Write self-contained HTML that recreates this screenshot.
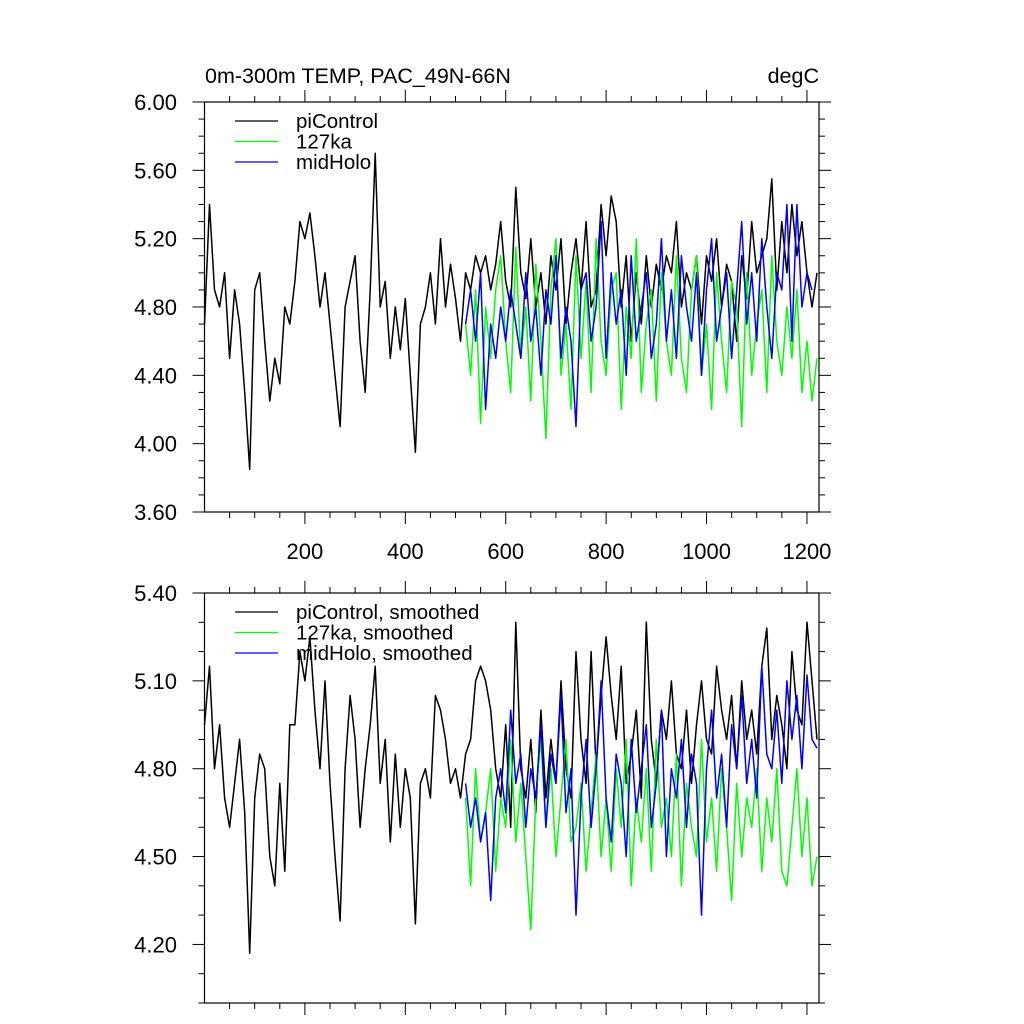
<!DOCTYPE html>
<html><head><meta charset="utf-8"><style>
html,body{margin:0;padding:0;background:#fff;}
svg{display:block;font-family:"Liberation Sans",Arial,sans-serif;}
</style></head><body>
<svg id="chart" width="1024" height="1024" viewBox="0 0 1024 1024" xmlns="http://www.w3.org/2000/svg">
<g id="g"></g>
</svg>
<script>
const xTicks=[200,400,600,800,1000,1200];
const topYTicks=[3.60,4.00,4.40,4.80,5.20,5.60,6.00];
const botYTicks=[4.20,4.50,4.80,5.10,5.40];
const seriesNames=["piControl","127ka","midHolo"];
const piStart=0, expStart=520, step=10;
const piTop=[4.7,5.4,4.9,4.8,5.0,4.5,4.9,4.7,4.3,3.85,4.9,5.0,4.6,4.25,4.5,4.35,4.8,4.7,4.95,5.3,5.2,5.35,5.1,4.8,5.0,4.7,4.4,4.1,4.8,4.95,5.1,4.6,4.3,4.9,5.7,4.8,4.95,4.5,4.8,4.55,4.85,4.4,3.95,4.7,4.8,5.0,4.7,5.2,4.8,5.05,4.85,4.6,5.0,4.9,5.1,5.0,5.1,4.9,5.05,5.3,4.95,4.8,5.5,5.0,4.85,5.2,4.8,5.0,4.7,5.1,4.9,5.2,4.7,5.0,5.2,4.9,5.3,4.8,4.9,5.4,5.1,5.45,5.3,4.8,5.1,4.6,5.0,4.7,5.1,4.8,5.05,4.9,5.1,5.0,5.3,4.8,5.0,4.9,5.1,4.7,5.1,4.95,5.2,4.8,5.05,4.95,4.6,5.1,4.85,5.3,5.0,5.1,5.2,5.55,4.9,5.3,5.0,5.4,5.1,5.3,5.0,4.8,5.0];
const lgmTop=[4.7,4.4,4.9,4.12,4.8,4.5,4.9,5.1,4.6,4.3,5.15,4.5,4.8,4.25,5.05,4.6,4.03,4.9,5.2,4.4,4.7,4.2,5.1,4.5,4.95,4.3,5.2,4.6,4.4,4.9,5.0,4.2,4.8,4.5,5.2,4.3,4.7,4.9,4.25,5.0,4.6,4.4,5.1,4.5,4.3,4.9,5.1,4.4,4.7,4.2,5.0,4.6,4.3,4.95,4.8,4.1,5.0,4.4,4.7,4.9,4.3,5.1,4.6,4.4,4.8,4.5,4.9,4.3,4.6,4.25,4.5];
const holoTop=[4.7,4.9,4.6,5.0,4.2,4.7,4.5,4.8,4.6,4.9,4.7,4.5,5.0,4.6,4.8,4.4,4.9,4.7,5.1,4.5,4.8,4.6,4.1,4.9,5.0,4.6,4.8,5.3,4.5,5.0,4.7,4.9,4.4,5.1,4.6,4.8,5.0,4.5,4.7,5.2,4.6,4.9,4.5,5.1,4.8,4.6,5.0,4.4,4.9,5.2,4.6,4.8,5.0,4.5,4.9,5.3,4.7,5.0,4.6,5.2,4.8,4.5,5.0,4.9,5.4,4.6,5.4,4.8,5.0,4.9];
const piBot=[4.95,5.15,4.8,4.95,4.7,4.6,4.75,4.9,4.65,4.17,4.7,4.85,4.8,4.5,4.4,4.75,4.45,4.95,4.95,5.2,5.1,5.25,5.0,4.8,5.1,4.75,4.5,4.28,4.8,5.05,4.9,4.6,4.8,4.95,5.15,4.75,4.9,4.55,4.85,4.6,4.8,4.7,4.27,4.75,4.8,4.7,5.05,5.0,4.9,4.75,4.8,4.7,4.85,4.9,5.1,5.15,5.1,5.0,4.8,4.7,4.95,4.6,5.3,4.8,4.7,4.9,4.65,5.0,4.7,4.9,4.75,5.1,4.8,4.7,5.2,4.9,4.75,5.2,4.8,5.05,5.25,5.05,4.9,5.15,4.75,4.85,5.0,4.7,5.3,4.9,4.75,5.0,4.9,5.1,4.85,4.8,5.0,4.75,4.95,5.1,4.9,4.85,5.15,5.0,4.9,5.05,4.8,5.1,4.9,5.0,4.85,5.15,5.28,4.9,5.05,4.95,4.8,5.2,5.0,4.95,5.3,5.1,4.9];
const lgmBot=[4.7,4.4,4.8,4.55,4.65,4.8,4.45,4.7,4.6,4.9,4.55,4.75,4.5,4.25,4.7,4.9,4.6,4.8,4.5,4.7,4.9,4.55,4.6,4.75,4.45,4.65,4.85,4.5,4.7,4.45,4.8,4.6,4.9,4.4,4.7,4.55,4.8,4.45,4.9,4.6,4.7,4.5,4.85,4.4,4.75,4.6,4.5,4.9,4.55,4.7,4.45,4.8,4.6,4.35,4.75,4.5,4.7,4.6,4.8,4.45,4.7,4.55,4.8,4.45,4.4,4.6,4.8,4.5,4.7,4.4,4.5];
const holoBot=[4.75,4.6,4.7,4.55,4.65,4.35,4.7,4.8,4.65,5.0,4.75,4.85,4.6,4.8,4.7,4.95,4.6,4.85,4.75,5.05,4.65,4.8,4.3,4.7,4.9,4.6,4.8,5.1,4.7,4.55,4.85,4.75,4.5,4.9,4.65,4.8,4.95,4.6,4.75,5.0,4.5,4.8,4.7,4.9,4.6,4.85,4.75,4.3,4.8,5.0,4.7,4.85,4.6,4.95,4.8,5.05,4.75,4.9,4.7,5.15,4.85,4.8,5.0,4.75,5.1,4.9,5.05,4.8,5.12,4.9,4.87];

const NS="http://www.w3.org/2000/svg";
const root=document.getElementById('g');
function mk(tag,attrs,parent){const e=document.createElementNS(NS,tag);for(const k in attrs)e.setAttribute(k,attrs[k]);(parent||root).appendChild(e);return e;}
const L=204.5,R=819,XMIN=0,XMAX=1224;
const xs=v=>L+(v-XMIN)/(XMAX-XMIN)*(R-L);

function panel(name,top,bot,ymin,ymax,yticks,minorStep,showXLabels,series,labels,legY){
  const g=mk('g',{});
  
  
  const ys=v=>bot-(v-ymin)/(ymax-ymin)*(bot-top);
  const tk={stroke:'#000','stroke-width':1};
  for(let v=50;v<=XMAX;v+=50){
    const major=v%200===0;const len=major?12:6;const x=xs(v);
    mk('line',Object.assign({x1:x,x2:x,y1:bot,y2:bot+len},tk),g);
    mk('line',Object.assign({x1:x,x2:x,y1:top,y2:top-len},tk),g);
  }
  if(showXLabels){xTicks.forEach(v=>{const t=mk('text',{x:xs(v),y:bot+47,'font-size':22,'text-anchor':'middle'},g);t.textContent=v;
    
    });}
  const n=Math.round((ymax-ymin)/minorStep);
  for(let i=0;i<=n;i++){
    const v=ymin+i*minorStep;const y=ys(v);
    const major=yticks.some(t=>Math.abs(t-v)<1e-6);const len=major?12:6;
    mk('line',Object.assign({x1:L,x2:L-len,y1:y,y2:y},tk),g);
    mk('line',Object.assign({x1:R,x2:R+len,y1:y,y2:y},tk),g);
  }
  yticks.forEach(v=>{const t=mk('text',{x:177,y:ys(v)+8,'font-size':22,'text-anchor':'end'},g);t.textContent=v.toFixed(2);
    
    });
  series.forEach(s=>{
    const pts=s.data.map((v,i)=>xs(s.start+i*step).toFixed(1)+','+ys(v).toFixed(1)).join(' ');
    const p=mk('polyline',{points:pts,fill:'none',stroke:s.color,'stroke-width':1.5,'stroke-linejoin':'round'},g);
    
    
  });
  mk('rect',{x:L,y:top,width:R-L,height:bot-top,fill:'none',stroke:'#000','stroke-width':1.2},g);
  const lg=mk('g',{},g);
  
  
  series.forEach((s,i)=>{
    const y=legY+i*20.5;
    mk('line',{x1:235,x2:278,y1:y,y2:y,stroke:s.color,'stroke-width':1.3},lg);
    const t=mk('text',{x:296,y:y+7,'font-size':20.5},lg);t.textContent=labels[i];
    
    
  });
}
panel('top-panel',102,512,3.6,6.0,topYTicks,0.1,true,[
 {name:'picontrol-line',data:piTop,start:piStart,color:'#000'},
 {name:'127ka-line',data:lgmTop,start:expStart,color:'#00ff00'},
 {name:'midholo-line',data:holoTop,start:expStart,color:'#0000ff'}],seriesNames,121);
panel('bottom-panel',593,1003,4.0,5.4,botYTicks,0.1,false,[
 {name:'picontrol-smoothed-line',data:piBot,start:piStart,color:'#000'},
 {name:'127ka-smoothed-line',data:lgmBot,start:expStart,color:'#00ff00'},
 {name:'midholo-smoothed-line',data:holoBot,start:expStart,color:'#0000ff'}],seriesNames.map(s=>s+', smoothed'),612);
const t1=mk('text',{x:205,y:83,'font-size':21.5});t1.textContent='0m-300m TEMP, PAC_49N-66N';


const t2=mk('text',{x:819,y:83,'font-size':21.5,'text-anchor':'end'});t2.textContent='degC';


</script>
</body></html>
